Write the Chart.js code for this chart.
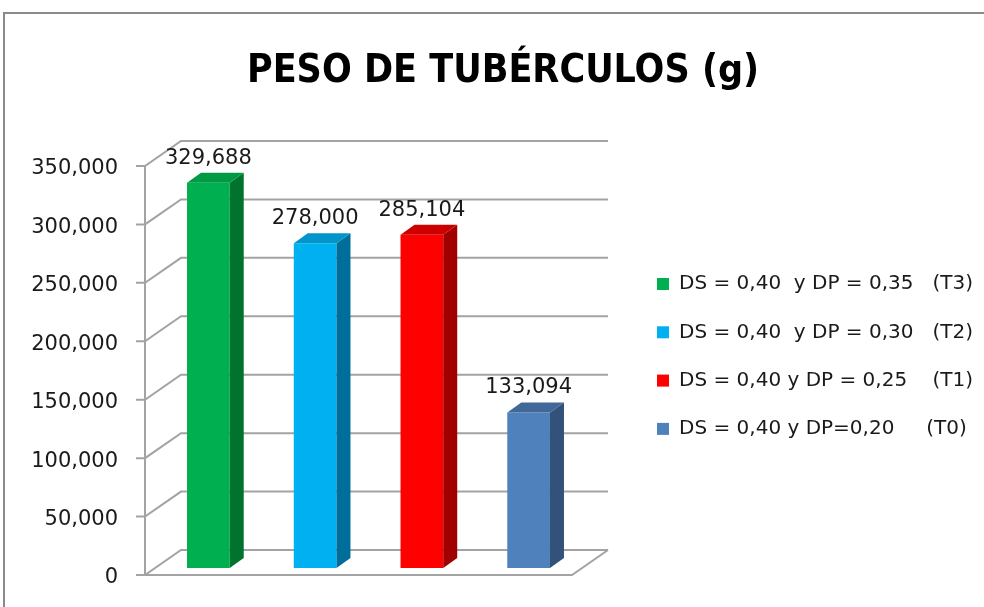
<!DOCTYPE html>
<html>
<head>
<meta charset="utf-8">
<script src="https://cdn.jsdelivr.net/npm/chart.js@4"></script>
<style>
html, body { margin: 0; padding: 0; background: #fff; }
#wrap { width: 984px; height: 607px; }
</style>
</head>
<body>
<div id="wrap"><canvas id="myChart" width="984" height="607"></canvas></div>
<script>
const chartTitle = 'PESO DE TUBÉRCULOS (g)';
const categories = [''];
const seriesLabels = [
    'DS = 0,40  y DP = 0,35   (T3)',
    'DS = 0,40  y DP = 0,30   (T2)',
    'DS = 0,40 y DP = 0,25    (T1)',
    'DS = 0,40 y DP=0,20     (T0)',
];
const seriesValues = [329.688, 278.000, 285.104, 133.094];
const yMin = 0;
const yMax = 350;
const yStep = 50;

const frontColors = ['#00B050', '#00B0F0', '#FF0000', '#4F81BD'];
const topColors = ['#009A45', '#0096CC', '#CC0000', '#40699A'];
const sideColors = ['#00742F', '#006E9A', '#A00000', '#33527A'];

// 3d look: offsets in px from the plane where the bars stand
const barDepth = {dx: 14, dy: -10};
const wallFront = {dx: -10, dy: 7};
const wallBack = {dx: 26, dy: -18};

const labelFont = '"DejaVu Sans", sans-serif';
const titleFont = 'bold 39px "DejaVu Sans Condensed", "Liberation Sans Narrow", sans-serif';

function fmt(v) {
    return v === 0 ? '0' : v.toFixed(3).replace('.', ',');
}

const box3d = {
    id: 'box3d',
    beforeDraw(chart) {
        const ctx = chart.ctx;
        ctx.save();
        ctx.strokeStyle = '#8a8a8a';
        ctx.lineWidth = 2;
        ctx.beginPath();
        ctx.moveTo(4, chart.height);
        ctx.lineTo(4, 13);
        ctx.lineTo(chart.width, 13);
        ctx.stroke();
        // title
        ctx.fillStyle = '#000';
        ctx.font = titleFont;
        ctx.textAlign = 'center';
        ctx.textBaseline = 'alphabetic';
        ctx.fillText(chartTitle, 503, 82);
        ctx.restore();
    },
    beforeDatasetsDraw(chart) {
        const {ctx, chartArea: a, scales: {y}} = chart;
        ctx.save();
        ctx.strokeStyle = '#a3a3a3';
        ctx.lineWidth = 2;
        y.ticks.forEach(t => {
            const py = y.getPixelForValue(t.value);
            ctx.beginPath();
            ctx.moveTo(a.left + wallFront.dx - 9, py + wallFront.dy);
            ctx.lineTo(a.left + wallFront.dx, py + wallFront.dy);
            ctx.lineTo(a.left + wallBack.dx, py + wallBack.dy);
            ctx.lineTo(a.right + wallBack.dx, py + wallBack.dy);
            ctx.stroke();
        });
        const y0 = y.getPixelForValue(yMin);
        const y1 = y.getPixelForValue(yMax);
        ctx.beginPath();
        ctx.moveTo(a.left + wallFront.dx, y1 + wallFront.dy);
        ctx.lineTo(a.left + wallFront.dx, y0 + wallFront.dy);
        ctx.lineTo(a.right + wallFront.dx, y0 + wallFront.dy);
        ctx.lineTo(a.right + wallBack.dx, y0 + wallBack.dy);
        ctx.stroke();
        ctx.restore();
    },
    afterDatasetsDraw(chart) {
        const ctx = chart.ctx;
        ctx.save();
        chart.data.datasets.forEach((ds, i) => {
            const bar = chart.getDatasetMeta(i).data[0];
            const {x, y, base, width} = bar.getProps(['x', 'y', 'base', 'width'], true);
            const l = x - width / 2;
            const r = x + width / 2;
            // side
            ctx.fillStyle = sideColors[i];
            ctx.beginPath();
            ctx.moveTo(r, y);
            ctx.lineTo(r + barDepth.dx, y + barDepth.dy);
            ctx.lineTo(r + barDepth.dx, base + barDepth.dy);
            ctx.lineTo(r, base);
            ctx.closePath();
            ctx.fill();
            // top
            ctx.fillStyle = topColors[i];
            ctx.beginPath();
            ctx.moveTo(l, y);
            ctx.lineTo(l + barDepth.dx, y + barDepth.dy);
            ctx.lineTo(r + barDepth.dx, y + barDepth.dy);
            ctx.lineTo(r, y);
            ctx.closePath();
            ctx.fill();
            // value label
            ctx.fillStyle = '#1a1a1a';
            ctx.font = '21px ' + labelFont;
            ctx.textAlign = 'center';
            ctx.textBaseline = 'alphabetic';
            ctx.fillText(fmt(ds.data[0]), x, y - 19);
        });

        // legend
        ctx.font = '20px ' + labelFont;
        ctx.textAlign = 'left';
        ctx.textBaseline = 'middle';
        chart.data.datasets.forEach((ds, i) => {
            const ly = 284 + i * 48.3;
            ctx.fillStyle = frontColors[i];
            ctx.fillRect(657, ly - 6, 12, 12);
            ctx.fillStyle = '#1a1a1a';
            ctx.fillText(ds.label, 679, ly);
        });
        ctx.restore();
    }
};

const datasets = seriesLabels.map((label, i) => ({
    label: label,
    data: [seriesValues[i]],
    backgroundColor: frontColors[i],
    borderWidth: 0,
    barPercentage: 0.4,
    categoryPercentage: 1.0,
}));

const options = {
    responsive: false,
    animation: false,
    layout: {
        padding: {left: 0, right: 402, top: 159, bottom: 39},
    },
    plugins: {
        legend: {display: false},
        tooltip: {enabled: false},
        title: {display: false},
    },
    scales: {
        x: {
            display: false,
        },
        y: {
            min: yMin,
            max: yMax,
            border: {display: false},
            grid: {display: false},
            ticks: {
                stepSize: yStep,
                padding: 29,
                labelOffset: 10,
                color: '#1a1a1a',
                font: {family: labelFont, size: 21},
                callback: v => fmt(v),
            },
            afterFit: scale => {
                scale.width = 155;
                scale.paddingTop = 0;
                scale.paddingBottom = 0;
            },
        },
    },
};

window.addEventListener('load', () => {
    new Chart(document.getElementById('myChart'), {
        type: 'bar',
        data: {labels: categories, datasets},
        options,
        plugins: [box3d],
    });
});
</script>
</body>
</html>
